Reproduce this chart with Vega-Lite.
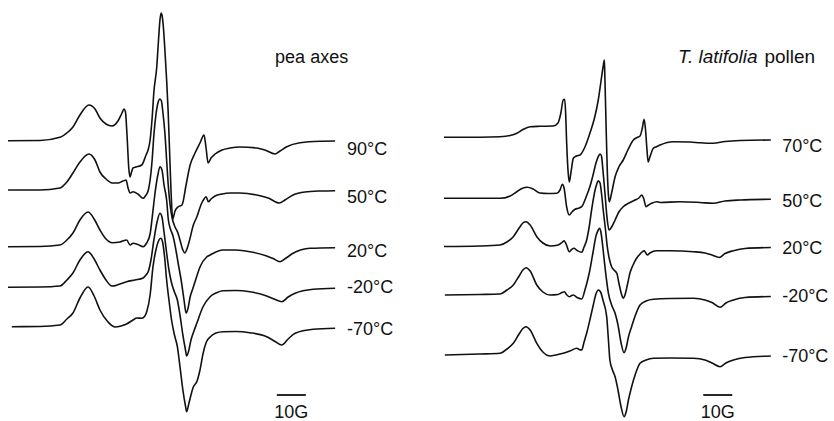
{
"$schema":"https://vega.github.io/schema/vega-lite/v6.json",
"padding":0,"spacing":0,"bounds":"flush","background":"white",
"config":{"view":{"stroke":null},"text":{"font":"Liberation Sans","fontSize":18,"color":"#111"}},
"datasets":{
"pea":[
{"temp":"90°C","field":0,"signal":280.3},{"temp":"90°C","field":11,"signal":280.5},{"temp":"90°C","field":17.9,"signal":283.7},{"temp":"90°C","field":20.7,"signal":289},{"temp":"90°C","field":22.4,"signal":294},{"temp":"90°C","field":24.8,"signal":306},{"temp":"90°C","field":27.9,"signal":316},{"temp":"90°C","field":30,"signal":312},{"temp":"90°C","field":31.7,"signal":303},{"temp":"90°C","field":33.8,"signal":297},{"temp":"90°C","field":35.9,"signal":295},{"temp":"90°C","field":37.9,"signal":300},{"temp":"90°C","field":39.3,"signal":308},{"temp":"90°C","field":40,"signal":312},{"temp":"90°C","field":40.5,"signal":309},{"temp":"90°C","field":41,"signal":288},{"temp":"90°C","field":41.7,"signal":251},{"temp":"90°C","field":42.1,"signal":244},{"temp":"90°C","field":42.6,"signal":249},{"temp":"90°C","field":43.1,"signal":253},{"temp":"90°C","field":44.1,"signal":254},{"temp":"90°C","field":46.1,"signal":256},{"temp":"90°C","field":47.6,"signal":266},{"temp":"90°C","field":48.3,"signal":271},{"temp":"90°C","field":49,"signal":281},{"temp":"90°C","field":49.7,"signal":303},{"temp":"90°C","field":50.3,"signal":329},{"temp":"90°C","field":51.3,"signal":354.3},{"temp":"90°C","field":51.9,"signal":381},{"temp":"90°C","field":52.4,"signal":401},{"temp":"90°C","field":52.8,"signal":408},{"temp":"90°C","field":53.1,"signal":406},{"temp":"90°C","field":53.6,"signal":393},{"temp":"90°C","field":54.1,"signal":371},{"temp":"90°C","field":54.7,"signal":341},{"temp":"90°C","field":55.2,"signal":311},{"temp":"90°C","field":55.7,"signal":271},{"temp":"90°C","field":56.2,"signal":231},{"temp":"90°C","field":56.8,"signal":202},{"temp":"90°C","field":57.6,"signal":210},{"temp":"90°C","field":58.6,"signal":214},{"temp":"90°C","field":60,"signal":216},{"temp":"90°C","field":61.4,"signal":236},{"temp":"90°C","field":62.8,"signal":256},{"temp":"90°C","field":64.5,"signal":268},{"temp":"90°C","field":66.2,"signal":278},{"temp":"90°C","field":67.6,"signal":286},{"temp":"90°C","field":68.3,"signal":273},{"temp":"90°C","field":69,"signal":258},{"temp":"90°C","field":70,"signal":263},{"temp":"90°C","field":71.4,"signal":267},{"temp":"90°C","field":73.8,"signal":271},{"temp":"90°C","field":76.6,"signal":273},{"temp":"90°C","field":80,"signal":274},{"temp":"90°C","field":85.8,"signal":273},{"temp":"90°C","field":88.6,"signal":271},{"temp":"90°C","field":92.1,"signal":267},{"temp":"90°C","field":93.8,"signal":270},{"temp":"90°C","field":96.1,"signal":274.3},{"temp":"90°C","field":100.7,"signal":278.3},{"temp":"90°C","field":107.6,"signal":279.8},{"temp":"90°C","field":112.8,"signal":280},
{"temp":"50°C","field":0,"signal":231},{"temp":"50°C","field":11,"signal":231},{"temp":"50°C","field":17.9,"signal":233},{"temp":"50°C","field":20.3,"signal":239},{"temp":"50°C","field":22.4,"signal":248},{"temp":"50°C","field":24.8,"signal":259},{"temp":"50°C","field":27.9,"signal":267},{"temp":"50°C","field":30,"signal":261},{"temp":"50°C","field":31.7,"signal":249},{"temp":"50°C","field":33.8,"signal":242},{"temp":"50°C","field":35.9,"signal":238},{"temp":"50°C","field":37.9,"signal":238},{"temp":"50°C","field":39.7,"signal":240},{"temp":"50°C","field":40.7,"signal":241},{"temp":"50°C","field":41.4,"signal":233},{"temp":"50°C","field":42.1,"signal":228},{"temp":"50°C","field":43.1,"signal":229.3},{"temp":"50°C","field":44.8,"signal":227},{"temp":"50°C","field":46.6,"signal":222.7},{"temp":"50°C","field":47.6,"signal":226},{"temp":"50°C","field":48.4,"signal":231},{"temp":"50°C","field":49,"signal":241},{"temp":"50°C","field":49.7,"signal":261},{"temp":"50°C","field":50.3,"signal":286},{"temp":"50°C","field":51,"signal":306},{"temp":"50°C","field":51.7,"signal":318},{"temp":"50°C","field":52.4,"signal":322},{"temp":"50°C","field":52.9,"signal":320},{"temp":"50°C","field":53.4,"signal":309},{"temp":"50°C","field":54.1,"signal":288},{"temp":"50°C","field":54.7,"signal":261},{"temp":"50°C","field":55.2,"signal":238},{"temp":"50°C","field":55.9,"signal":216},{"temp":"50°C","field":56.6,"signal":203},{"temp":"50°C","field":57.6,"signal":194},{"temp":"50°C","field":58.6,"signal":188},{"temp":"50°C","field":59.3,"signal":181},{"temp":"50°C","field":60.3,"signal":171},{"temp":"50°C","field":61,"signal":168},{"temp":"50°C","field":61.7,"signal":172},{"temp":"50°C","field":62.8,"signal":183},{"temp":"50°C","field":63.8,"signal":195},{"temp":"50°C","field":65.1,"signal":204},{"temp":"50°C","field":66.8,"signal":218},{"temp":"50°C","field":67.6,"signal":222},{"temp":"50°C","field":68.3,"signal":224.3},{"temp":"50°C","field":69.1,"signal":219.3},{"temp":"50°C","field":70,"signal":222},{"temp":"50°C","field":71.4,"signal":225},{"temp":"50°C","field":73.8,"signal":227},{"temp":"50°C","field":76.6,"signal":228},{"temp":"50°C","field":80,"signal":228},{"temp":"50°C","field":85.8,"signal":226},{"temp":"50°C","field":89.7,"signal":223},{"temp":"50°C","field":93.6,"signal":218},{"temp":"50°C","field":95.5,"signal":221},{"temp":"50°C","field":98.3,"signal":226},{"temp":"50°C","field":102.4,"signal":229},{"temp":"50°C","field":107.6,"signal":230},{"temp":"50°C","field":112.8,"signal":230.3},
{"temp":"20°C","field":0,"signal":174.3},{"temp":"20°C","field":11,"signal":174.5},{"temp":"20°C","field":17.9,"signal":176},{"temp":"20°C","field":20.3,"signal":181},{"temp":"20°C","field":22.4,"signal":188},{"temp":"20°C","field":24.8,"signal":201},{"temp":"20°C","field":27.6,"signal":209},{"temp":"20°C","field":29.7,"signal":202},{"temp":"20°C","field":31.7,"signal":191},{"temp":"20°C","field":33.8,"signal":182},{"temp":"20°C","field":35.9,"signal":178.3},{"temp":"20°C","field":38.6,"signal":179},{"temp":"20°C","field":40.9,"signal":181},{"temp":"20°C","field":42.1,"signal":176},{"temp":"20°C","field":43.1,"signal":177.7},{"temp":"20°C","field":44.8,"signal":176.5},{"temp":"20°C","field":46.6,"signal":174.3},{"temp":"20°C","field":47.8,"signal":178},{"temp":"20°C","field":49,"signal":187},{"temp":"20°C","field":49.7,"signal":203},{"temp":"20°C","field":50.7,"signal":228},{"temp":"20°C","field":51.6,"signal":245},{"temp":"20°C","field":52.4,"signal":254.3},{"temp":"20°C","field":53.1,"signal":251},{"temp":"20°C","field":53.8,"signal":236},{"temp":"20°C","field":54.7,"signal":221},{"temp":"20°C","field":55.3,"signal":201},{"temp":"20°C","field":55.9,"signal":193},{"temp":"20°C","field":56.9,"signal":185},{"temp":"20°C","field":58.2,"signal":166},{"temp":"20°C","field":58.6,"signal":159},{"temp":"20°C","field":59.7,"signal":141},{"temp":"20°C","field":60.7,"signal":121},{"temp":"20°C","field":61.4,"signal":108},{"temp":"20°C","field":62.1,"signal":113},{"temp":"20°C","field":62.8,"signal":124},{"temp":"20°C","field":63.8,"signal":133},{"temp":"20°C","field":64.8,"signal":142},{"temp":"20°C","field":66.2,"signal":154},{"temp":"20°C","field":68.5,"signal":164},{"temp":"20°C","field":69.7,"signal":166},{"temp":"20°C","field":74.1,"signal":171},{"temp":"20°C","field":78.6,"signal":171},{"temp":"20°C","field":83.4,"signal":169.3},{"temp":"20°C","field":89.2,"signal":165},{"temp":"20°C","field":91.4,"signal":162.5},{"temp":"20°C","field":93.8,"signal":159.3},{"temp":"20°C","field":95.9,"signal":163},{"temp":"20°C","field":98.3,"signal":167.7},{"temp":"20°C","field":104.1,"signal":172.7},{"temp":"20°C","field":112.8,"signal":173.3},
{"temp":"-20°C","field":0,"signal":133.7},{"temp":"-20°C","field":11,"signal":134},{"temp":"-20°C","field":17.9,"signal":135},{"temp":"-20°C","field":20.3,"signal":141},{"temp":"-20°C","field":22.4,"signal":148},{"temp":"-20°C","field":24.8,"signal":161},{"temp":"-20°C","field":27.6,"signal":169.3},{"temp":"-20°C","field":29.7,"signal":162},{"temp":"-20°C","field":31.7,"signal":151},{"temp":"-20°C","field":33.8,"signal":141},{"temp":"-20°C","field":35.8,"signal":135},{"temp":"-20°C","field":37.2,"signal":135.5},{"temp":"-20°C","field":38.6,"signal":137},{"temp":"-20°C","field":40.9,"signal":139.3},{"temp":"-20°C","field":43.8,"signal":141},{"temp":"-20°C","field":46.6,"signal":143},{"temp":"-20°C","field":47.6,"signal":146},{"temp":"-20°C","field":48.3,"signal":149},{"temp":"-20°C","field":49.3,"signal":161},{"temp":"-20°C","field":50.3,"signal":181},{"temp":"-20°C","field":51.4,"signal":199},{"temp":"-20°C","field":52.4,"signal":207.7},{"temp":"-20°C","field":53.1,"signal":204},{"temp":"-20°C","field":53.8,"signal":189},{"temp":"-20°C","field":54.7,"signal":168},{"temp":"-20°C","field":55.5,"signal":151},{"temp":"-20°C","field":56.4,"signal":138},{"temp":"-20°C","field":57.4,"signal":129},{"temp":"-20°C","field":58.4,"signal":121},{"temp":"-20°C","field":59.3,"signal":106},{"temp":"-20°C","field":60.3,"signal":86},{"temp":"-20°C","field":61.2,"signal":71},{"temp":"-20°C","field":61.6,"signal":65},{"temp":"-20°C","field":62.2,"signal":69},{"temp":"-20°C","field":63.1,"signal":81},{"temp":"-20°C","field":64,"signal":89},{"temp":"-20°C","field":65.1,"signal":97.7},{"temp":"-20°C","field":67.2,"signal":114},{"temp":"-20°C","field":69.7,"signal":124.3},{"temp":"-20°C","field":71.7,"signal":128},{"temp":"-20°C","field":74.1,"signal":130.3},{"temp":"-20°C","field":78.6,"signal":130.5},{"temp":"-20°C","field":83.4,"signal":129.3},{"temp":"-20°C","field":89.2,"signal":125},{"temp":"-20°C","field":92.1,"signal":121.5},{"temp":"-20°C","field":94.4,"signal":119.3},{"temp":"-20°C","field":96.6,"signal":124},{"temp":"-20°C","field":99,"signal":127.7},{"temp":"-20°C","field":105.2,"signal":131.7},{"temp":"-20°C","field":112.8,"signal":132.7},
{"temp":"-70°C","field":1.3,"signal":94.3},{"temp":"-70°C","field":11,"signal":94.5},{"temp":"-70°C","field":17.9,"signal":96},{"temp":"-70°C","field":20.3,"signal":102},{"temp":"-70°C","field":22.4,"signal":108},{"temp":"-70°C","field":24.8,"signal":123},{"temp":"-70°C","field":27.6,"signal":134},{"temp":"-70°C","field":29.7,"signal":125},{"temp":"-70°C","field":31.7,"signal":111},{"temp":"-70°C","field":34.5,"signal":99},{"temp":"-70°C","field":36.9,"signal":94},{"temp":"-70°C","field":39,"signal":95},{"temp":"-70°C","field":40.9,"signal":97},{"temp":"-70°C","field":43.1,"signal":101},{"temp":"-70°C","field":44.4,"signal":103},{"temp":"-70°C","field":46.1,"signal":102.7},{"temp":"-70°C","field":47.2,"signal":105},{"temp":"-70°C","field":47.9,"signal":110},{"temp":"-70°C","field":49,"signal":126},{"temp":"-70°C","field":50,"signal":154.3},{"temp":"-70°C","field":51,"signal":171},{"temp":"-70°C","field":51.9,"signal":180},{"temp":"-70°C","field":52.7,"signal":182.7},{"temp":"-70°C","field":53.3,"signal":179},{"temp":"-70°C","field":54,"signal":164},{"temp":"-70°C","field":54.7,"signal":141},{"temp":"-70°C","field":55.5,"signal":121},{"temp":"-70°C","field":56.4,"signal":101},{"temp":"-70°C","field":57.4,"signal":86},{"temp":"-70°C","field":58.4,"signal":74.3},{"temp":"-70°C","field":59.3,"signal":54.3},{"temp":"-70°C","field":60.3,"signal":31},{"temp":"-70°C","field":61.2,"signal":15},{"temp":"-70°C","field":61.6,"signal":9.3},{"temp":"-70°C","field":62.4,"signal":18},{"temp":"-70°C","field":63.9,"signal":34},{"temp":"-70°C","field":65.2,"signal":40},{"temp":"-70°C","field":66.2,"signal":51},{"temp":"-70°C","field":67.3,"signal":68},{"temp":"-70°C","field":68.4,"signal":79},{"temp":"-70°C","field":69.7,"signal":84},{"temp":"-70°C","field":71.7,"signal":88},{"temp":"-70°C","field":74.1,"signal":89.3},{"temp":"-70°C","field":78.6,"signal":89.5},{"temp":"-70°C","field":83.4,"signal":88.3},{"temp":"-70°C","field":89.2,"signal":84.3},{"temp":"-70°C","field":92.1,"signal":79.5},{"temp":"-70°C","field":94.4,"signal":76},{"temp":"-70°C","field":96.6,"signal":82},{"temp":"-70°C","field":99,"signal":87.7},{"temp":"-70°C","field":105.2,"signal":91.7},{"temp":"-70°C","field":112.8,"signal":92.7}
],
"pollen":[
{"temp":"70°C","field":0,"signal":283.7},{"temp":"70°C","field":12.4,"signal":283.8},{"temp":"70°C","field":19.3,"signal":284.3},{"temp":"70°C","field":22.8,"signal":285.5},{"temp":"70°C","field":25.1,"signal":287.7},{"temp":"70°C","field":27.2,"signal":291.5},{"temp":"70°C","field":29.7,"signal":294.3},{"temp":"70°C","field":33.1,"signal":294.7},{"temp":"70°C","field":37.7,"signal":295},{"temp":"70°C","field":39.3,"signal":298},{"temp":"70°C","field":40.3,"signal":308},{"temp":"70°C","field":41.1,"signal":321},{"temp":"70°C","field":41.6,"signal":321.7},{"temp":"70°C","field":41.9,"signal":311},{"temp":"70°C","field":42.3,"signal":278},{"temp":"70°C","field":42.8,"signal":249},{"temp":"70°C","field":43.2,"signal":239},{"temp":"70°C","field":43.8,"signal":249},{"temp":"70°C","field":44.6,"signal":262.7},{"temp":"70°C","field":45.7,"signal":265},{"temp":"70°C","field":46.9,"signal":266},{"temp":"70°C","field":48.6,"signal":274},{"temp":"70°C","field":50.3,"signal":287.7},{"temp":"70°C","field":51.9,"signal":303},{"temp":"70°C","field":53.2,"signal":321},{"temp":"70°C","field":54.1,"signal":339},{"temp":"70°C","field":54.8,"signal":353},{"temp":"70°C","field":55.3,"signal":361},{"temp":"70°C","field":55.5,"signal":341},{"temp":"70°C","field":55.9,"signal":294.3},{"temp":"70°C","field":56.3,"signal":251},{"temp":"70°C","field":56.7,"signal":226},{"temp":"70°C","field":57,"signal":219.3},{"temp":"70°C","field":57.8,"signal":228},{"temp":"70°C","field":59,"signal":244.3},{"temp":"70°C","field":60.3,"signal":254},{"temp":"70°C","field":61.8,"signal":261},{"temp":"70°C","field":63.4,"signal":271},{"temp":"70°C","field":65.3,"signal":281},{"temp":"70°C","field":66.6,"signal":283.5},{"temp":"70°C","field":67.6,"signal":285},{"temp":"70°C","field":68.4,"signal":293},{"temp":"70°C","field":69,"signal":301.7},{"temp":"70°C","field":69.5,"signal":291},{"temp":"70°C","field":70,"signal":271},{"temp":"70°C","field":70.4,"signal":259},{"temp":"70°C","field":71,"signal":264},{"temp":"70°C","field":72.2,"signal":272.7},{"temp":"70°C","field":73.3,"signal":274.3},{"temp":"70°C","field":74.5,"signal":276},{"temp":"70°C","field":79.1,"signal":279.3},{"temp":"70°C","field":84.8,"signal":279},{"temp":"70°C","field":88.3,"signal":278.2},{"temp":"70°C","field":92.8,"signal":277.7},{"temp":"70°C","field":96.9,"signal":279.5},{"temp":"70°C","field":102.1,"signal":280.5},{"temp":"70°C","field":112.7,"signal":281},
{"temp":"50°C","field":0,"signal":222.7},{"temp":"50°C","field":12.4,"signal":222.7},{"temp":"50°C","field":19.3,"signal":222.7},{"temp":"50°C","field":22.8,"signal":225},{"temp":"50°C","field":25.1,"signal":229.3},{"temp":"50°C","field":26.9,"signal":232.5},{"temp":"50°C","field":28.7,"signal":233.7},{"temp":"50°C","field":30.7,"signal":232},{"temp":"50°C","field":33.1,"signal":228},{"temp":"50°C","field":35.9,"signal":227.5},{"temp":"50°C","field":38.9,"signal":227.7},{"temp":"50°C","field":40,"signal":231},{"temp":"50°C","field":40.8,"signal":236.7},{"temp":"50°C","field":41.4,"signal":233},{"temp":"50°C","field":42.3,"signal":214},{"temp":"50°C","field":43.2,"signal":206},{"temp":"50°C","field":44.1,"signal":209},{"temp":"50°C","field":45.2,"signal":211.7},{"temp":"50°C","field":46.3,"signal":212.7},{"temp":"50°C","field":47.5,"signal":214.3},{"temp":"50°C","field":49,"signal":224},{"temp":"50°C","field":50.3,"signal":234.3},{"temp":"50°C","field":51.4,"signal":246},{"temp":"50°C","field":52.4,"signal":258},{"temp":"50°C","field":53.3,"signal":265},{"temp":"50°C","field":53.8,"signal":267},{"temp":"50°C","field":54.3,"signal":265},{"temp":"50°C","field":54.8,"signal":251},{"temp":"50°C","field":55.5,"signal":227.7},{"temp":"50°C","field":56.3,"signal":201},{"temp":"50°C","field":56.9,"signal":191},{"temp":"50°C","field":57.8,"signal":194},{"temp":"50°C","field":59,"signal":201},{"temp":"50°C","field":60.3,"signal":209},{"temp":"50°C","field":61.8,"signal":214.3},{"temp":"50°C","field":63.8,"signal":218},{"temp":"50°C","field":65.9,"signal":221},{"temp":"50°C","field":67.2,"signal":223},{"temp":"50°C","field":68.2,"signal":226},{"temp":"50°C","field":68.8,"signal":223},{"temp":"50°C","field":69.7,"signal":214.3},{"temp":"50°C","field":70.3,"signal":215.5},{"temp":"50°C","field":71.6,"signal":217.7},{"temp":"50°C","field":73.3,"signal":219.3},{"temp":"50°C","field":74.5,"signal":218.5},{"temp":"50°C","field":81.4,"signal":219.3},{"temp":"50°C","field":88.3,"signal":218.5},{"temp":"50°C","field":92.8,"signal":217.7},{"temp":"50°C","field":96.9,"signal":220},{"temp":"50°C","field":102.1,"signal":221},{"temp":"50°C","field":112.7,"signal":221.7},
{"temp":"20°C","field":0,"signal":174.5},{"temp":"20°C","field":12.4,"signal":175},{"temp":"20°C","field":19.3,"signal":176},{"temp":"20°C","field":21.7,"signal":179},{"temp":"20°C","field":23.9,"signal":184.3},{"temp":"20°C","field":25.9,"signal":193},{"temp":"20°C","field":27.2,"signal":198},{"temp":"20°C","field":28.3,"signal":199.3},{"temp":"20°C","field":29.7,"signal":196},{"temp":"20°C","field":32,"signal":184.3},{"temp":"20°C","field":34.1,"signal":178},{"temp":"20°C","field":36.6,"signal":175},{"temp":"20°C","field":39.4,"signal":176},{"temp":"20°C","field":40.7,"signal":178.5},{"temp":"20°C","field":41.4,"signal":180.3},{"temp":"20°C","field":42.1,"signal":177},{"temp":"20°C","field":43.2,"signal":169.3},{"temp":"20°C","field":44,"signal":171.5},{"temp":"20°C","field":44.8,"signal":172.7},{"temp":"20°C","field":45.9,"signal":170.5},{"temp":"20°C","field":47.5,"signal":168.7},{"temp":"20°C","field":48.3,"signal":174},{"temp":"20°C","field":49.2,"signal":181},{"temp":"20°C","field":50,"signal":193},{"temp":"20°C","field":51,"signal":213},{"temp":"20°C","field":52.1,"signal":231},{"temp":"20°C","field":52.8,"signal":238},{"temp":"20°C","field":53.2,"signal":240.3},{"temp":"20°C","field":53.8,"signal":238},{"temp":"20°C","field":54.3,"signal":228},{"temp":"20°C","field":54.9,"signal":211},{"temp":"20°C","field":55.7,"signal":191},{"temp":"20°C","field":56.3,"signal":174.3},{"temp":"20°C","field":57.1,"signal":161},{"temp":"20°C","field":57.8,"signal":154.3},{"temp":"20°C","field":58.6,"signal":151},{"temp":"20°C","field":59.6,"signal":147.7},{"temp":"20°C","field":60.3,"signal":138},{"temp":"20°C","field":61.2,"signal":127},{"temp":"20°C","field":61.8,"signal":122.7},{"temp":"20°C","field":62.4,"signal":126},{"temp":"20°C","field":63.3,"signal":137},{"temp":"20°C","field":64.1,"signal":147.7},{"temp":"20°C","field":65.2,"signal":156},{"temp":"20°C","field":66.4,"signal":162.7},{"temp":"20°C","field":67.6,"signal":167},{"temp":"20°C","field":68.3,"signal":169},{"temp":"20°C","field":69,"signal":170.3},{"temp":"20°C","field":69.5,"signal":168.5},{"temp":"20°C","field":70.1,"signal":166},{"temp":"20°C","field":71,"signal":168},{"temp":"20°C","field":73.3,"signal":170.3},{"temp":"20°C","field":77.9,"signal":170.3},{"temp":"20°C","field":86,"signal":169.3},{"temp":"20°C","field":90,"signal":168},{"temp":"20°C","field":92.4,"signal":166},{"temp":"20°C","field":94.9,"signal":163.5},{"temp":"20°C","field":96.9,"signal":167.5},{"temp":"20°C","field":99.8,"signal":170.3},{"temp":"20°C","field":103.8,"signal":172.5},{"temp":"20°C","field":112.7,"signal":173.5},
{"temp":"-20°C","field":0.3,"signal":126},{"temp":"-20°C","field":12.4,"signal":126.5},{"temp":"-20°C","field":19.3,"signal":127},{"temp":"-20°C","field":21.7,"signal":131},{"temp":"-20°C","field":23.9,"signal":136},{"temp":"-20°C","field":25.9,"signal":145},{"temp":"-20°C","field":27.2,"signal":151},{"temp":"-20°C","field":28.3,"signal":153.3},{"temp":"-20°C","field":29.7,"signal":150},{"temp":"-20°C","field":32,"signal":136},{"temp":"-20°C","field":34.1,"signal":129},{"temp":"-20°C","field":36.6,"signal":126},{"temp":"-20°C","field":39.3,"signal":126.5},{"temp":"-20°C","field":40.7,"signal":128.5},{"temp":"-20°C","field":41.5,"signal":129.3},{"temp":"-20°C","field":42.2,"signal":126.5},{"temp":"-20°C","field":43.2,"signal":124.3},{"temp":"-20°C","field":44,"signal":125.5},{"temp":"-20°C","field":44.6,"signal":126},{"temp":"-20°C","field":45.9,"signal":123.5},{"temp":"-20°C","field":47.5,"signal":122},{"temp":"-20°C","field":48.6,"signal":131},{"temp":"-20°C","field":49.7,"signal":143},{"temp":"-20°C","field":50.3,"signal":151},{"temp":"-20°C","field":51.4,"signal":169},{"temp":"-20°C","field":52.4,"signal":185},{"temp":"-20°C","field":53.2,"signal":191},{"temp":"-20°C","field":53.6,"signal":192.7},{"temp":"-20°C","field":54.1,"signal":189},{"temp":"-20°C","field":54.8,"signal":173},{"temp":"-20°C","field":55.5,"signal":154.3},{"temp":"-20°C","field":56.7,"signal":127.7},{"temp":"-20°C","field":57.8,"signal":116},{"temp":"-20°C","field":59,"signal":107.7},{"temp":"-20°C","field":60,"signal":96},{"temp":"-20°C","field":61,"signal":79},{"temp":"-20°C","field":62.1,"signal":68.3},{"temp":"-20°C","field":62.8,"signal":73},{"temp":"-20°C","field":63.6,"signal":84},{"temp":"-20°C","field":64.7,"signal":94.3},{"temp":"-20°C","field":65.9,"signal":105},{"temp":"-20°C","field":67.6,"signal":116},{"temp":"-20°C","field":69.7,"signal":120},{"temp":"-20°C","field":72.2,"signal":121.7},{"temp":"-20°C","field":77.9,"signal":122.5},{"temp":"-20°C","field":86,"signal":122.7},{"temp":"-20°C","field":90,"signal":121},{"temp":"-20°C","field":92.4,"signal":118.5},{"temp":"-20°C","field":95.2,"signal":113.7},{"temp":"-20°C","field":97.2,"signal":118},{"temp":"-20°C","field":99.8,"signal":121},{"temp":"-20°C","field":103.8,"signal":123.5},{"temp":"-20°C","field":112.7,"signal":124.5},
{"temp":"-70°C","field":0.3,"signal":66},{"temp":"-70°C","field":12.4,"signal":67},{"temp":"-70°C","field":19.3,"signal":67.7},{"temp":"-70°C","field":21.7,"signal":72},{"temp":"-70°C","field":23.9,"signal":77.7},{"temp":"-70°C","field":25.9,"signal":87},{"temp":"-70°C","field":27.2,"signal":92.5},{"temp":"-70°C","field":28.3,"signal":94.3},{"temp":"-70°C","field":29.7,"signal":91},{"temp":"-70°C","field":32,"signal":77.7},{"temp":"-70°C","field":34.1,"signal":69},{"temp":"-70°C","field":36.6,"signal":65},{"temp":"-70°C","field":38.6,"signal":66},{"temp":"-70°C","field":41.1,"signal":67.7},{"temp":"-70°C","field":43.4,"signal":70},{"temp":"-70°C","field":45.8,"signal":72.7},{"temp":"-70°C","field":46.6,"signal":71.5},{"temp":"-70°C","field":47.5,"signal":71},{"temp":"-70°C","field":48.3,"signal":79},{"temp":"-70°C","field":49.3,"signal":89},{"temp":"-70°C","field":50.3,"signal":101},{"temp":"-70°C","field":51.4,"signal":115},{"temp":"-70°C","field":52.4,"signal":127},{"temp":"-70°C","field":53.2,"signal":131},{"temp":"-70°C","field":54,"signal":129},{"temp":"-70°C","field":54.8,"signal":121},{"temp":"-70°C","field":56.1,"signal":104.3},{"temp":"-70°C","field":56.7,"signal":81},{"temp":"-70°C","field":57.2,"signal":61},{"temp":"-70°C","field":58.1,"signal":51},{"temp":"-70°C","field":59,"signal":44.3},{"temp":"-70°C","field":60,"signal":31},{"temp":"-70°C","field":61,"signal":15},{"temp":"-70°C","field":62.1,"signal":4.3},{"temp":"-70°C","field":62.8,"signal":9},{"temp":"-70°C","field":63.6,"signal":21},{"temp":"-70°C","field":64.7,"signal":34.3},{"temp":"-70°C","field":65.9,"signal":46},{"temp":"-70°C","field":67.6,"signal":57.7},{"temp":"-70°C","field":69.7,"signal":61},{"temp":"-70°C","field":72.2,"signal":62.7},{"temp":"-70°C","field":77.9,"signal":63},{"temp":"-70°C","field":86,"signal":62.7},{"temp":"-70°C","field":90,"signal":61},{"temp":"-70°C","field":92.4,"signal":58},{"temp":"-70°C","field":95.2,"signal":54.3},{"temp":"-70°C","field":97.2,"signal":58},{"temp":"-70°C","field":99.8,"signal":61},{"temp":"-70°C","field":103.8,"signal":63.5},{"temp":"-70°C","field":112.7,"signal":65}
],
"peaLabels":[{"temp":"90°C","signal":271},{"temp":"50°C","signal":223.5},{"temp":"20°C","signal":169.3},{"temp":"-20°C","signal":133.3},{"temp":"-70°C","signal":91}],
"pollenLabels":[{"temp":"70°C","signal":273.7},{"temp":"50°C","signal":219.3},{"temp":"20°C","signal":171.7},{"temp":"-20°C","signal":123.7},{"temp":"-70°C","signal":63.7}]
},
"hconcat":[
{"width":410,"height":421,
 "encoding":{"x":{"type":"quantitative","scale":{"domain":[-2.76,138.62],"nice":false,"zero":false},"axis":null},"y":{"type":"quantitative","scale":{"domain":[0,421],"nice":false,"zero":false},"axis":null}},
 "layer":[
  {"data":{"name":"pea"},"mark":{"type":"line","color":"#111","strokeWidth":1.6,"interpolate":"monotone","clip":false},
   "encoding":{"x":{"field":"field","type":"quantitative"},"y":{"field":"signal","type":"quantitative"},"detail":{"field":"temp"}}},
  {"data":{"name":"peaLabels"},"mark":{"type":"text","align":"left","baseline":"middle"},
   "encoding":{"x":{"datum":116.9},"y":{"field":"signal","type":"quantitative"},"text":{"field":"temp"}}},
  {"data":{"values":[{"title":"pea axes"}]},"mark":{"type":"text","align":"left","baseline":"alphabetic"},
   "encoding":{"x":{"datum":92.1},"y":{"datum":357.7},"text":{"field":"title"}}},
  {"data":{"values":[{"b0":92.7,"b1":102.7,"y":26}]},"mark":{"type":"rule","color":"#111","strokeWidth":1.8},
   "encoding":{"x":{"field":"b0","type":"quantitative"},"x2":{"field":"b1"},"y":{"field":"y","type":"quantitative"}}},
  {"data":{"values":[{"t":"10G"}]},"mark":{"type":"text","align":"center","baseline":"alphabetic"},
   "encoding":{"x":{"datum":97.7},"y":{"datum":2.7},"text":{"field":"t"}}}
 ]},
{"width":424,"height":421,
 "encoding":{"x":{"type":"quantitative","scale":{"domain":[-11.724,134.483],"nice":false,"zero":false},"axis":null},"y":{"type":"quantitative","scale":{"domain":[0,421],"nice":false,"zero":false},"axis":null}},
 "layer":[
  {"data":{"name":"pollen"},"mark":{"type":"line","color":"#111","strokeWidth":1.6,"interpolate":"monotone","clip":false},
   "encoding":{"x":{"field":"field","type":"quantitative"},"y":{"field":"signal","type":"quantitative"},"detail":{"field":"temp"}}},
  {"data":{"name":"pollenLabels"},"mark":{"type":"text","align":"left","baseline":"middle"},
   "encoding":{"x":{"datum":116.6},"y":{"field":"signal","type":"quantitative"},"text":{"field":"temp"}}},
  {"data":{"values":[{"title":"T. latifolia"}]},"mark":{"type":"text","align":"left","baseline":"alphabetic","fontStyle":"italic","fontSize":19},
   "encoding":{"x":{"datum":80.7},"y":{"datum":357.7},"text":{"field":"title"}}},
  {"data":{"values":[{"title":"pollen"}]},"mark":{"type":"text","align":"left","baseline":"alphabetic","fontSize":19},
   "encoding":{"x":{"datum":110.5},"y":{"datum":357.7},"text":{"field":"title"}}},
  {"data":{"values":[{"b0":89.4,"b1":99.4,"y":26}]},"mark":{"type":"rule","color":"#111","strokeWidth":1.8},
   "encoding":{"x":{"field":"b0","type":"quantitative"},"x2":{"field":"b1"},"y":{"field":"y","type":"quantitative"}}},
  {"data":{"values":[{"t":"10G"}]},"mark":{"type":"text","align":"center","baseline":"alphabetic"},
   "encoding":{"x":{"datum":94.4},"y":{"datum":2.7},"text":{"field":"t"}}}
 ]}
]
}
